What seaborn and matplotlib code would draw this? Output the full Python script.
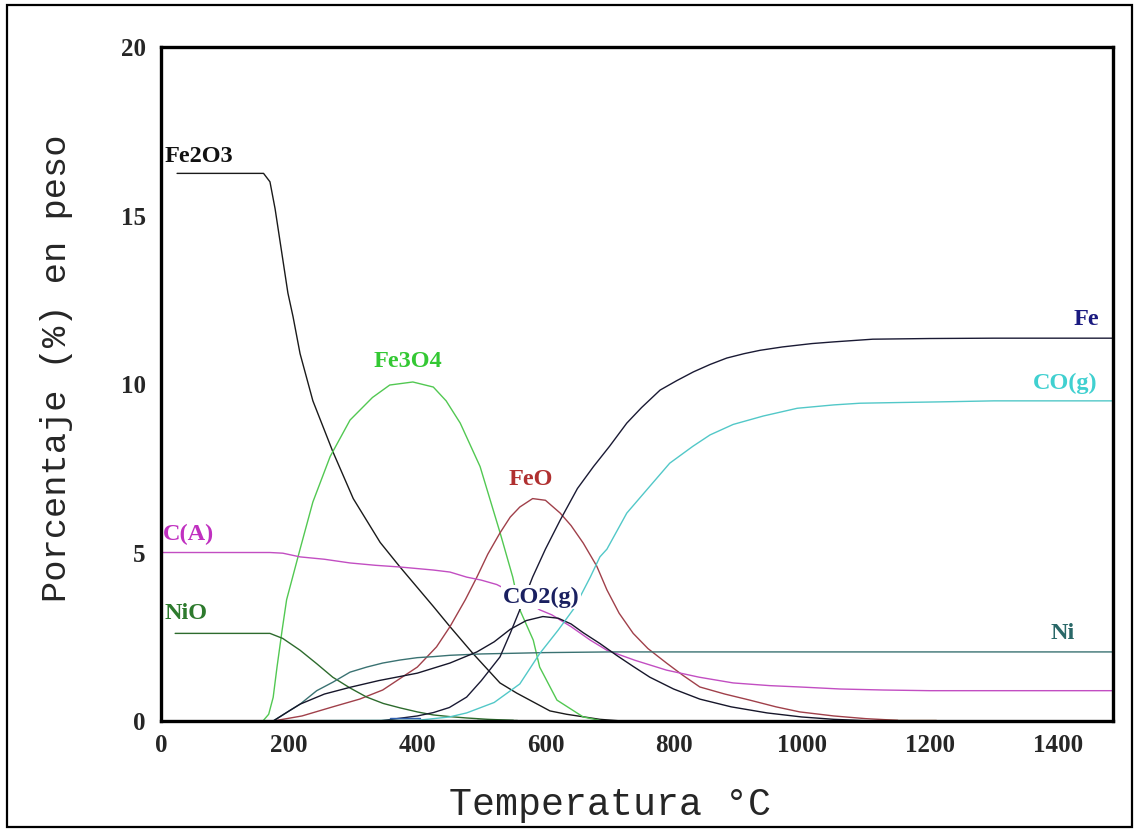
import matplotlib
matplotlib.use("Agg")
import matplotlib.pyplot as plt
import seaborn as sns
import pandas as pd
from matplotlib.patches import Rectangle

# ---------------- data ----------------
fe2o3_T = [25, 160, 170, 178, 186, 198, 206, 217, 237, 268, 300, 342, 373, 425, 451, 487, 529, 555, 607, 633, 685, 720]
fe2o3_y = [16.25, 16.25, 16.0, 15.2, 14.2, 12.7, 12.0, 10.9, 9.5, 8.0, 6.6, 5.3, 4.57, 3.4, 2.8, 2.0, 1.13, 0.83, 0.3, 0.2, 0.05, 0.0]

fe3o4_T = [155, 159, 168, 175, 181, 189, 196, 217, 237, 264, 295, 330, 357, 393, 425, 445, 467, 498, 529, 549, 560, 581, 591, 618, 659, 690, 700]
fe3o4_y = [0.0, 0.0, 0.2, 0.7, 1.6, 2.7, 3.6, 5.1, 6.5, 7.85, 8.93, 9.6, 9.97, 10.06, 9.91, 9.5, 8.84, 7.55, 5.6, 4.27, 3.3, 2.4, 1.6, 0.62, 0.12, 0.0, 0.0]

feo_T = [175, 220, 268, 310, 346, 400, 430, 451, 475, 493, 510, 529, 545, 560, 580, 600, 623, 640, 659, 680, 696, 715, 737, 760, 789, 815, 841, 880, 919, 960, 997, 1050, 1100, 1150]
feo_y = [0.0, 0.15, 0.42, 0.65, 0.92, 1.6, 2.2, 2.8, 3.6, 4.27, 4.95, 5.58, 6.05, 6.35, 6.6, 6.55, 6.17, 5.8, 5.28, 4.6, 3.89, 3.2, 2.6, 2.15, 1.72, 1.35, 1.01, 0.8, 0.62, 0.42, 0.27, 0.15, 0.07, 0.02]

ca_T = [0, 170, 190, 217, 255, 295, 335, 373, 425, 451, 477, 500, 524, 560, 591, 610, 640, 670, 696, 740, 789, 840, 893, 950, 997, 1060, 1127, 1200, 1300, 1485]
ca_y = [5.0, 5.0, 4.98, 4.87, 4.8, 4.69, 4.62, 4.57, 4.48, 4.42, 4.27, 4.18, 4.05, 3.7, 3.3, 3.15, 2.8, 2.4, 2.1, 1.8, 1.51, 1.3, 1.13, 1.05, 1.01, 0.95, 0.92, 0.9, 0.9, 0.9]

nio_T = [22, 170, 190, 217, 243, 268, 295, 321, 347, 373, 400, 425, 451, 477, 510, 550]
nio_y = [2.6, 2.6, 2.45, 2.1, 1.7, 1.3, 0.98, 0.71, 0.52, 0.39, 0.27, 0.18, 0.13, 0.09, 0.05, 0.02]

ni_T = [175, 200, 217, 243, 268, 295, 321, 346, 373, 400, 425, 451, 500, 550, 600, 700, 1485]
ni_y = [0.0, 0.3, 0.5, 0.9, 1.15, 1.45, 1.6, 1.72, 1.81, 1.88, 1.91, 1.95, 1.99, 2.01, 2.03, 2.05, 2.05]

co2_T = [175, 200, 217, 255, 295, 340, 400, 451, 493, 520, 545, 570, 596, 620, 640, 659, 685, 711, 737, 763, 800, 841, 890, 946, 1000, 1050, 1100]
co2_y = [0.0, 0.3, 0.5, 0.8, 1.0, 1.2, 1.42, 1.72, 2.05, 2.35, 2.72, 2.98, 3.1, 3.05, 2.88, 2.62, 2.3, 1.95, 1.62, 1.3, 0.95, 0.65, 0.42, 0.24, 0.12, 0.05, 0.01]

fe_T = [340, 400, 425, 450, 477, 500, 529, 545, 560, 580, 600, 623, 650, 675, 700, 727, 750, 779, 805, 831, 857, 883, 910, 935, 970, 1016, 1050, 1111, 1200, 1300, 1485]
fe_y = [0.0, 0.15, 0.25, 0.4, 0.71, 1.2, 1.9, 2.6, 3.3, 4.27, 5.1, 5.96, 6.9, 7.55, 8.15, 8.84, 9.3, 9.82, 10.1, 10.36, 10.58, 10.77, 10.9, 11.0, 11.1, 11.2, 11.25, 11.33, 11.35, 11.36, 11.36]

co_T = [0, 400, 450, 477, 520, 560, 591, 620, 645, 670, 685, 696, 727, 760, 794, 830, 857, 893, 940, 993, 1050, 1091, 1150, 1216, 1300, 1485]
co_y = [0.0, 0.02, 0.12, 0.24, 0.55, 1.1, 2.0, 2.7, 3.35, 4.27, 4.87, 5.1, 6.17, 6.9, 7.65, 8.15, 8.49, 8.8, 9.05, 9.28, 9.38, 9.43, 9.45, 9.47, 9.5, 9.5]

minor1_T = [357, 404]
minor1_y = [0.08, 0.08]
minor2_T = [493, 555]
minor2_y = [0.04, 0.04]
minor3_T = [1122, 1210]
minor3_y = [0.04, 0.04]

species = ["Fe2O3", "Fe3O4", "FeO", "C(A)", "NiO", "Ni", "CO2(g)", "Fe", "CO(g)", "m1", "m2", "m3"]
series = {
    "Fe2O3": (fe2o3_T, fe2o3_y), "Fe3O4": (fe3o4_T, fe3o4_y), "FeO": (feo_T, feo_y),
    "C(A)": (ca_T, ca_y), "NiO": (nio_T, nio_y), "Ni": (ni_T, ni_y),
    "CO2(g)": (co2_T, co2_y), "Fe": (fe_T, fe_y), "CO(g)": (co_T, co_y),
    "m1": (minor1_T, minor1_y), "m2": (minor2_T, minor2_y), "m3": (minor3_T, minor3_y),
}

line_colors = {
    "Fe2O3": "#1a1a1a", "Fe3O4": "#52c852", "FeO": "#a0404a", "C(A)": "#c24ec2",
    "NiO": "#2d6b2d", "Ni": "#3a7272", "CO2(g)": "#16162a", "Fe": "#1a1a34",
    "CO(g)": "#52c8c8", "m1": "#3060b0", "m2": "#1f5a1f", "m3": "#8b4a20",
}

labels = ["Fe2O3", "Fe3O4", "FeO", "C(A)", "NiO", "CO2(g)", "Fe", "CO(g)", "Ni"]
label_x = [6, 385, 577, 3, 5, 593, 1445, 1411, 1407]
label_y = [16.74, 10.68, 7.18, 5.55, 3.18, 3.68, 11.9, 10.03, 2.61]
label_ha = ["left", "center", "center", "left", "left", "center", "center", "center", "center"]
label_colors = ["#111111", "#33c833", "#b03030", "#c030c0", "#2d7a2d", "#1a2060", "#1a1a80", "#40d0d0", "#2a6868"]

x_ticks = [0, 200, 400, 600, 800, 1000, 1200, 1400]
y_ticks = [0, 5, 10, 15, 20]

rows = []
for sp in species:
    T, y = series[sp]
    for i, (t, v) in enumerate(zip(T, y)):
        rows.append({"T": t, "pct": v, "species": sp, "order": i})
df = pd.DataFrame(rows)

# ---------------- plot ----------------
sns.set_theme(style="white")
plt.rcParams["font.family"] = ["Liberation Serif", "DejaVu Serif"]

fig = plt.figure(figsize=(11.39, 8.32), dpi=100)
ax = fig.add_axes([0.1414, 0.1334, 0.8358, 0.8101])

sns.lineplot(data=df, x="T", y="pct", hue="species", hue_order=species,
             palette=line_colors, sort=False, estimator=None, units="species",
             legend=False, linewidth=1.0, ax=ax)

ax.set_xlim(0, 1486)
ax.set_ylim(0, 20)
ax.set_xticks(x_ticks)
ax.set_yticks(y_ticks)
ax.set_xticklabels([str(t) for t in x_ticks], fontsize=18, fontweight="bold",
                   family=["Liberation Serif"])
ax.set_yticklabels([str(t) for t in y_ticks], fontsize=18, fontweight="bold",
                   family=["Liberation Serif"])
ax.tick_params(axis="both", direction="in", length=4, width=1, color="#333333")
ax.tick_params(axis="y", pad=11)
ax.tick_params(axis="x", pad=9)

for s in ax.spines.values():
    s.set_visible(True)
    s.set_color("black")
    s.set_linewidth(2.4)

ax.set_xlabel("Temperatura °C", family=["Liberation Mono", "DejaVu Sans Mono"],
              fontsize=27.5)
ax.xaxis.set_label_coords(0.4716, -0.098)
ax.set_ylabel("Porcentaje (%) en peso", family=["Liberation Mono", "DejaVu Sans Mono"],
              fontsize=25.5)
ax.yaxis.set_label_coords(-0.093, 0.524)

for lab, lx, ly, ha, c in zip(labels, label_x, label_y, label_ha, label_colors):
    bbox = None
    if lab == "CO2(g)":
        bbox = dict(facecolor="white", edgecolor="none", pad=1.0)
    ax.text(lx, ly, lab, ha=ha, va="center", color=c, fontsize=17.5,
            fontweight="bold", family=["Liberation Serif"], bbox=bbox, zorder=5)

fig.add_artist(Rectangle((0.006, 0.006), 0.988, 0.988, transform=fig.transFigure,
                         fill=False, edgecolor="black", linewidth=1.6))

fig.savefig("out.png", dpi=100)
